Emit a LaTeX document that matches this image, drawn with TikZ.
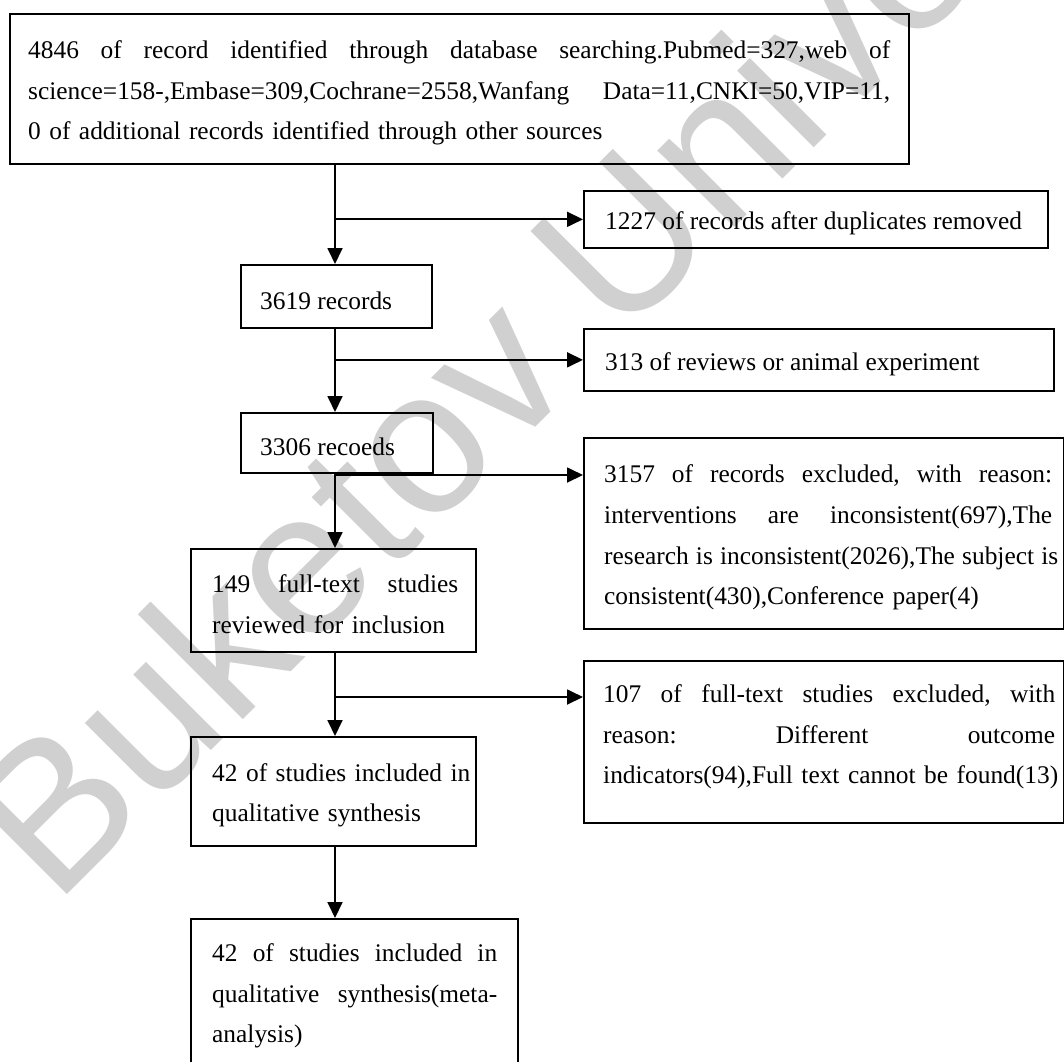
\documentclass[tikz,border=0pt]{standalone}
\usepackage{fontspec}
\setmainfont{Liberation Serif}
\newfontfamily\wmfont{Liberation Sans}
\usetikzlibrary{arrows.meta}
\definecolor{wmgray}{RGB}{208,208,208}
\newcommand{\jl}[2]{\hbox to #1{\spaceskip=0pt\xspaceskip=0pt #2}}
\frenchspacing
\tikzset{
  box/.style={draw=black, line width=1.7pt, inner sep=0pt, anchor=north west},
  txt/.style={inner sep=0pt, anchor=west, yshift=-4pt, font=\fontsize{25.4pt}{40.8pt}\selectfont},
  arr/.style={line width=1.8pt, -{Triangle[length=16pt,width=15pt]}},
  wm/.style={text=wmgray, inner sep=0pt, font=\wmfont\fontsize{205pt}{205pt}\selectfont}
}
\begin{document}
\begin{tikzpicture}[x=1pt,y=-1pt]
\useasboundingbox (0,0) rectangle (1064,1061);
\node[wm, rotate=45, anchor=mid west] (wmark) at (54,905) {Buketov Univer};
% boxes
\node[box, minimum width=899pt, minimum height=150pt] (b1) at (9,13) {};
\node[box, minimum width=464pt, minimum height=57pt] (b1227) at (583,190) {};
\node[box, minimum width=191pt, minimum height=63pt] (b3619) at (240,264) {};
\node[box, minimum width=470pt, minimum height=62pt] (b313) at (583,328) {};
\node[box, minimum width=192pt, minimum height=60pt] (b3306) at (240,412) {};
\node[box, minimum width=479.5pt, minimum height=191pt] (b3157) at (583,437) {};
\node[box, minimum width=285pt, minimum height=103pt] (b149) at (190,548) {};
\node[box, minimum width=479.5pt, minimum height=162pt] (b107) at (583,660) {};
\node[box, minimum width=285pt, minimum height=109pt] (b42) at (190,736) {};
\node[box, minimum width=327pt, minimum height=146pt] (bfin) at (190,918) {};
% texts
\node[txt, text width=862pt] (t1) at ([xshift=19pt]b1.west) {\jl{862pt}{4846 of record identified through database searching.Pubmed=327,web of}\par\jl{862pt}{science=158-,Embase=309,Cochrane=2558,Wanfang Data=11,CNKI=50,VIP=11,}\par 0 of additional records identified through other sources};
\node[txt] (t1227) at ([xshift=22pt]b1227.west) {1227 of records after duplicates removed};
\node[txt] (t3619) at ([xshift=20pt]b3619.west) {3619 records};
\node[txt] (t313) at ([xshift=22pt]b313.west) {313 of reviews or animal experiment};
\node[txt] (t3306) at ([xshift=20pt]b3306.west) {3306 recoeds};
\node[txt, text width=456pt] (t3157) at ([xshift=21pt]b3157.west) {\jl{448pt}{3157 of records excluded, with reason:}\par\jl{448pt}{interventions are inconsistent(697),The}\par\jl{454pt}{research is inconsistent(2026),The subject is}\par consistent(430),Conference paper(4)};
\node[txt, text width=250pt] (t149) at ([xshift=22pt]b149.west) {\jl{246pt}{149 full-text studies}\par reviewed for inclusion};
\node[txt, text width=475pt, yshift=9pt] (t107) at ([xshift=20pt]b107.west) {\jl{452pt}{107 of full-text studies excluded, with}\par\jl{452pt}{reason: Different outcome}\par indicators(94),Full text cannot be found(13)};
\node[txt, text width=262pt] (t42) at ([xshift=22pt]b42.west) {42 of studies included in\par qualitative synthesis};
\node[txt, text width=290pt] (tfin) at ([xshift=22pt]bfin.west) {\jl{285pt}{42 of studies included in}\par\jl{285pt}{qualitative synthesis(meta-}\par analysis)};
% connectors
\coordinate (sp) at (335,0);
\draw[arr] (b1.south -| sp) -- (b3619.north -| sp);
\draw[arr] (b3619.south -| sp) -- (b3306.north -| sp);
\draw[arr] (b3306.south -| sp) -- (b149.north -| sp);
\draw[arr] (b149.south -| sp) -- (b42.north -| sp);
\draw[arr] (b42.south -| sp) -- (bfin.north -| sp);
\draw[arr] (b1227.west -| sp) -- (b1227.west);
\draw[arr] (b313.west -| sp) -- (b313.west);
\coordinate (j3) at (335,475);
\draw[arr] (j3) -- (j3 -| b3157.west);
\coordinate (j4) at (335,697);
\draw[arr] (j4) -- (j4 -| b107.west);
\end{tikzpicture}
\end{document}
